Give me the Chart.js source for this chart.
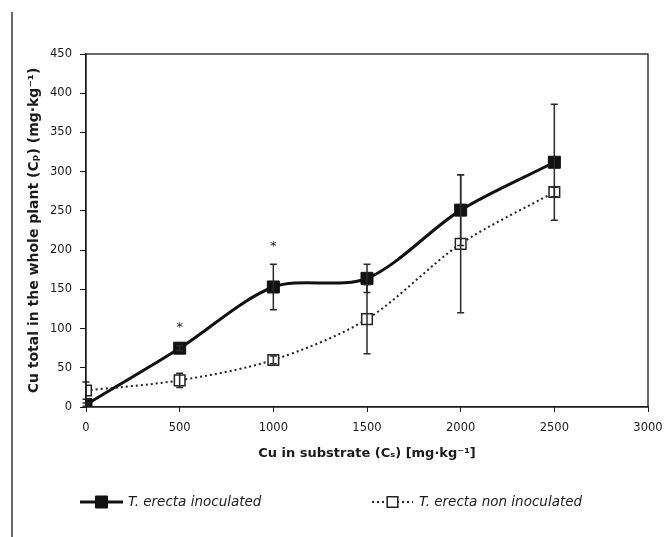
<!DOCTYPE html>
<html>
<head>
<meta charset="utf-8">
<script src="https://cdn.jsdelivr.net/npm/chart.js@4/dist/chart.umd.min.js"></script>
<style>
  html, body { margin: 0; padding: 0; background: #fff; }
  #wrap { position: relative; width: 670px; height: 537px; }
  #rule { position: absolute; left: 11px; top: 12px; height: 525px; border-left: 2px solid #6a6a6a; }
  canvas { position: absolute; left: 0; top: 0; }
</style>
</head>
<body>
<div id="wrap">
  <div id="rule"></div>
  <canvas id="chart" width="670" height="537"></canvas>
</div>
<script>
// Cu added to the substrate (mg·kg⁻¹)
const substrateCu = [0, 500, 1000, 1500, 2000, 2500];

// Total Cu in the whole plant (mg·kg⁻¹), mean and standard deviation
const inoculated = [3, 75, 153, 164, 251, 312];
const inoculatedSD = [2, 3, 29, 18, 45, 74];
const nonInoculated = [21, 34, 60, 112, 208, 274];
const nonInoculatedSD = [11, 9, 5, 44, 88, 6];

// Significant difference between treatments at each dose
const significance = ['', '*', '*', '', '', ''];

// Axis ranges and tick steps
const xRange = [0, 3000, 500];
const yRange = [0, 450, 50];

const seriesNames = ['T. erecta inoculated', 'T. erecta non inoculated'];

const ink = '#1a1a1a';
const tickFont = { family: 'DejaVu Sans', size: 11.5 };
const xTitleFont = { family: 'DejaVu Sans', size: 13, weight: 'bold' };
const yTitleFont = { family: 'DejaVu Sans', size: 14, weight: 'bold' };

const toPoints = (vals) => vals.map((v, i) => ({ x: substrateCu[i], y: v }));

// Frame around the plotting area
const frame = {
  id: 'frame',
  afterDraw(chart) {
    const { ctx, chartArea: a } = chart;
    ctx.save();
    ctx.strokeStyle = ink;
    ctx.lineWidth = 1.3;
    ctx.strokeRect(a.left, a.top, a.right - a.left, a.bottom - a.top);
    ctx.restore();
  }
};

// Standard deviation whiskers and significance marks
const errorBars = {
  id: 'errorBars',
  afterDatasetsDraw(chart) {
    const { ctx, scales: { x, y } } = chart;
    const sds = [inoculatedSD, nonInoculatedSD];
    ctx.save();
    ctx.strokeStyle = '#2a2a2a';
    ctx.lineWidth = 1.5;
    chart.data.datasets.forEach((ds, d) => {
      ds.data.forEach((p, i) => {
        const px = x.getPixelForValue(p.x);
        const top = y.getPixelForValue(p.y + sds[d][i]);
        const bot = y.getPixelForValue(p.y - sds[d][i]);
        ctx.beginPath();
        ctx.moveTo(px, top); ctx.lineTo(px, bot);
        ctx.moveTo(px - 3.5, top); ctx.lineTo(px + 3.5, top);
        ctx.moveTo(px - 3.5, bot); ctx.lineTo(px + 3.5, bot);
        ctx.stroke();
      });
    });
    ctx.fillStyle = ink;
    ctx.font = '13px "DejaVu Sans"';
    ctx.textAlign = 'center';
    ctx.textBaseline = 'middle';
    significance.forEach((s, i) => {
      if (!s) return;
      const px = x.getPixelForValue(substrateCu[i]);
      const top = y.getPixelForValue(Math.max(inoculated[i] + inoculatedSD[i], nonInoculated[i] + nonInoculatedSD[i]));
      ctx.fillText(s, px, top - 18);
    });
    ctx.restore();
  }
};

// Legend with line samples below the axis
const lineLegend = {
  id: 'lineLegend',
  afterDraw(chart) {
    const { ctx } = chart;
    const y0 = 502;
    const items = [
      { x0: 80, x1: 123, text: 128, ds: chart.data.datasets[0] },
      { x0: 372, x1: 413, text: 419, ds: chart.data.datasets[1] }
    ];
    ctx.save();
    items.forEach((it) => {
      const ds = it.ds;
      ctx.strokeStyle = ds.borderColor;
      ctx.lineWidth = ds.borderWidth;
      ctx.setLineDash(ds.borderDash || []);
      ctx.beginPath();
      ctx.moveTo(it.x0, y0); ctx.lineTo(it.x1, y0);
      ctx.stroke();
      ctx.setLineDash([]);
      const mx = (it.x0 + it.x1) / 2;
      const half = Math.SQRT1_2 * ds.pointRadius;
      ctx.fillStyle = ds.pointBackgroundColor;
      ctx.strokeStyle = ds.pointBorderColor;
      ctx.lineWidth = ds.pointBorderWidth;
      ctx.beginPath();
      ctx.rect(mx - half, y0 - half, half * 2, half * 2);
      ctx.fill();
      ctx.stroke();
      ctx.fillStyle = ink;
      ctx.font = 'oblique 13.5px "DejaVu Sans"';
      ctx.textAlign = 'left';
      ctx.textBaseline = 'middle';
      ctx.fillText(ds.label, it.text, y0);
    });
    ctx.restore();
  }
};

new Chart(document.getElementById('chart'), {
  type: 'line',
  data: {
    datasets: [
      {
        label: seriesNames[0],
        data: toPoints(inoculated),
        borderColor: '#111',
        borderWidth: 3,
        tension: 0.3,
        pointStyle: 'rect',
        pointRadius: 8.5,
        pointBackgroundColor: '#111',
        pointBorderColor: '#111',
        pointBorderWidth: 1
      },
      {
        label: seriesNames[1],
        data: toPoints(nonInoculated),
        borderColor: '#222',
        borderWidth: 2,
        borderDash: [2, 3],
        tension: 0.3,
        pointStyle: 'rect',
        pointRadius: 7.5,
        pointBackgroundColor: '#fff',
        pointBorderColor: '#222',
        pointBorderWidth: 1.5
      }
    ]
  },
  options: {
    responsive: false,
    animation: false,
    devicePixelRatio: 1,
    layout: { padding: { left: 20, top: 54, right: 22, bottom: 74 } },
    plugins: { legend: { display: false }, tooltip: { enabled: false } },
    scales: {
      x: {
        type: 'linear',
        min: xRange[0], max: xRange[1],
        afterFit: (s) => { s.height = 56; s.paddingLeft = 0; s.paddingRight = 0; },
        ticks: { stepSize: xRange[2], maxRotation: 0, padding: 9, color: ink, font: tickFont, callback: (v) => String(v) },
        grid: { drawOnChartArea: false, tickLength: 5, color: ink },
        border: { color: ink, width: 1.3 },
        title: { display: true, text: 'Cu in substrate (Cₛ) [mg·kg⁻¹]', color: ink, font: xTitleFont, padding: { top: 0, bottom: 2 } }
      },
      y: {
        min: yRange[0], max: yRange[1],
        afterFit: (s) => { s.width = 66; s.paddingTop = 0; s.paddingBottom = 0; },
        ticks: { stepSize: yRange[2], padding: 8, color: ink, font: tickFont, callback: (v) => String(v) },
        grid: { drawOnChartArea: false, tickLength: 6, color: ink },
        border: { color: ink, width: 1.3 },
        title: { display: true, text: 'Cu total in the whole plant (Cₚ) (mg·kg⁻¹)', color: ink, font: yTitleFont, padding: { top: 6, bottom: 0 } }
      }
    }
  },
  plugins: [frame, errorBars, lineLegend]
});
</script>
</body>
</html>
